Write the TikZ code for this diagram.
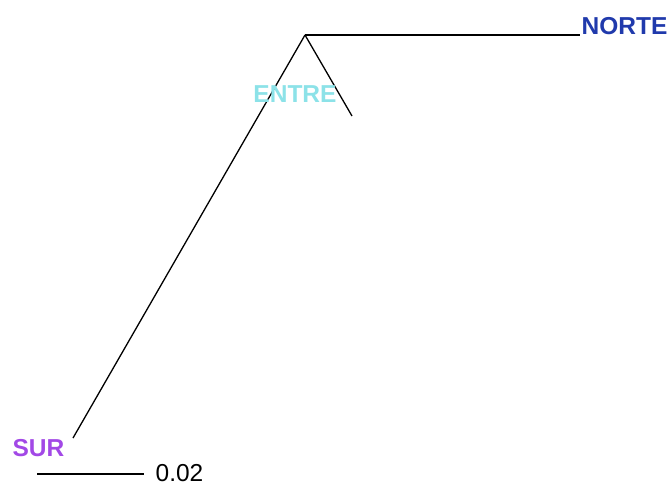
\documentclass[tikz,border=0pt]{standalone}
\usepackage{fontspec}
\setmainfont{Liberation Sans}
\usepackage{tikz}
\usetikzlibrary{positioning,calc}
\definecolor{norteblue}{RGB}{32,58,172}
\definecolor{entrecyan}{RGB}{140,226,232}
\definecolor{surpurple}{RGB}{162,72,230}
\begin{document}
\begin{tikzpicture}[x=1pt,y=-1pt,line width=1.3pt,
    lbl/.style={inner sep=0pt,font=\fontsize{24.5}{29}\selectfont\bfseries}]
        \useasboundingbox (0,0) rectangle (669,485);
        % tree
        \coordinate (root) at (305,35);
        \coordinate (norte) at (580,35);
        \coordinate (entre) at (352,116);
        \coordinate (sur) at (73,438);
        \draw (root) -- (norte);
        \draw (root) -- (entre);
        \draw (root) -- (sur);
        \node[lbl,text=norteblue,anchor=west] (nortelbl) at (581,26.5) {NORTE};
        \node[lbl,text=entrecyan] (entrelbl) at (295,94.5) {ENTRE};
        \node[lbl,text=surpurple,anchor=west] (surlbl) at (12,448.5) {SUR};
        % scale bar
        \coordinate (sa) at (37,474);
        \coordinate (sb) at (144,474);
        \draw (sa) -- (sb);
        \node[inner sep=0pt,anchor=west,font=\fontsize{24.5}{29}\selectfont] (scalelbl) at (155,473.5) {0.02};
      \end{tikzpicture}
\end{document}
